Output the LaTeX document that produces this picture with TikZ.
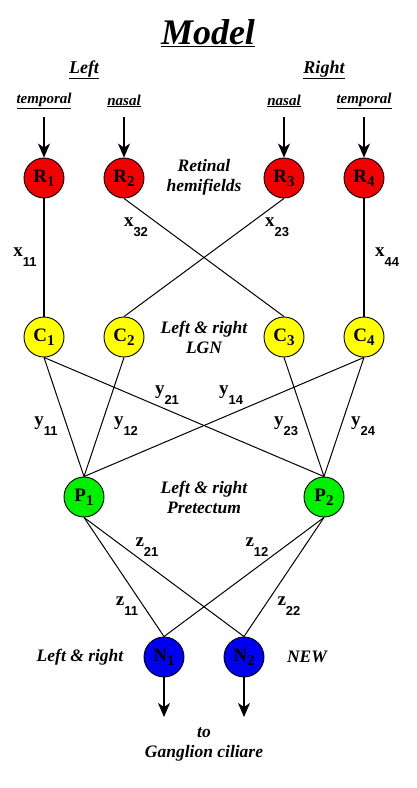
\documentclass[tikz,border=0pt]{standalone}
\usepackage{fontspec}
\setmainfont{Liberation Serif}
\setsansfont{Liberation Sans}
\usetikzlibrary{arrows.meta}
\definecolor{nred}{RGB}{240,0,0}
\definecolor{nyellow}{RGB}{255,255,0}
\definecolor{ngreen}{RGB}{0,240,0}
\definecolor{nblue}{RGB}{0,0,240}
\newcommand{\nlab}[2]{#1\raisebox{-4pt}{\fontsize{15}{15}\selectfont #2}}
\newcommand{\elab}[2]{\textbf{#1}\raisebox{-10pt}{\sffamily\bfseries\fontsize{13}{13}\selectfont #2}}
\begin{document}
\begin{tikzpicture}[x=1pt,y=-1pt,
  neuron/.style={circle,draw=black,line width=0.9pt,minimum size=40pt,inner sep=0pt,font=\fontsize{19}{19}\selectfont\bfseries},
  rnode/.style={neuron,fill=nred},
  cnode/.style={neuron,fill=nyellow},
  pnode/.style={neuron,fill=ngreen},
  nnode/.style={neuron,fill=nblue},
  title/.style={font=\fontsize{36}{36}\selectfont\bfseries\itshape},
  side/.style={font=\fontsize{18}{18}\selectfont\bfseries\itshape},
  sub/.style={font=\fontsize{15}{15}\selectfont\bfseries\itshape},
  layer/.style={font=\fontsize{17.5}{20}\selectfont\bfseries\itshape,align=center},
  edgelab/.style={font=\fontsize{19}{19}\selectfont,inner sep=0pt},
  conn/.style={line width=1pt},
  vconn/.style={line width=1.6pt},
  arr/.style={line width=1.6pt,-{Stealth[length=14pt,width=12pt,inset=4pt]}}]
\useasboundingbox (0,0) rectangle (416,788);
% title
\node[title] (model) at (208,33) {\underline{Model}};
\node[side] (left) at (84,70) {\underline{Left}};
\node[side] (right) at (324,70) {\underline{Right}};
\node[sub] (t1) at (44,101) {\underline{temporal}};
\node[sub] (n1) at (124,101) {\underline{nasal}};
\node[sub] (n2) at (284,101) {\underline{nasal}};
\node[sub] (t2) at (364,101) {\underline{temporal}};
% neurons
\node[rnode] (R1) at (44,178) {\nlab{R}{1}};
\node[rnode] (R2) at (124,178) {\nlab{R}{2}};
\node[rnode] (R3) at (284,178) {\nlab{R}{3}};
\node[rnode] (R4) at (364,178) {\nlab{R}{4}};
\node[cnode] (C1) at (44,337) {\nlab{C}{1}};
\node[cnode] (C2) at (124,337) {\nlab{C}{2}};
\node[cnode] (C3) at (284,337) {\nlab{C}{3}};
\node[cnode] (C4) at (364,337) {\nlab{C}{4}};
\node[pnode] (P1) at (84,497) {\nlab{P}{1}};
\node[pnode] (P2) at (324,497) {\nlab{P}{2}};
\node[nnode] (N1) at (164,657) {\nlab{N}{1}};
\node[nnode] (N2) at (244,657) {\nlab{N}{2}};
% layer labels
\node[layer] (lr) at (204,177) {Retinal\\hemifields};
\node[layer] (ll) at (204,337) {Left \& right\\LGN};
\node[layer] (lp) at (204,497) {Left \& right\\Pretectum};
\node[layer] (ln) at (80,657) {Left \& right};
\node[layer] (lnew) at (307,657) {NEW};
\node[layer] (lg) at (204,744) {to\\Ganglion ciliare};
% input arrows
\coordinate (a1) at (44,117);
\coordinate (a2) at (124,117);
\coordinate (a3) at (284,117);
\coordinate (a4) at (364,117);
\draw[arr] (a1) -- (R1);
\draw[arr] (a2) -- (R2);
\draw[arr] (a3) -- (R3);
\draw[arr] (a4) -- (R4);
% output arrows
\coordinate (o1) at (164,717);
\coordinate (o2) at (244,717);
\draw[arr] (N1) -- (o1);
\draw[arr] (N2) -- (o2);
% R -> C
\draw[vconn] (R1) -- (C1);
\draw[vconn] (R4) -- (C4);
\draw[conn] (R2.south) -- (C3.north);
\draw[conn] (R3.south) -- (C2.north);
% C -> P
\draw[conn] (C1.south) -- (P1.north);
\draw[conn] (C1.south) -- (P2.north);
\draw[conn] (C2.south) -- (P1.north);
\draw[conn] (C3.south) -- (P2.north);
\draw[conn] (C4.south) -- (P1.north);
\draw[conn] (C4.south) -- (P2.north);
% P -> N
\draw[conn] (P1.south) -- (N1.north);
\draw[conn] (P1.south) -- (N2.north);
\draw[conn] (P2.south) -- (N1.north);
\draw[conn] (P2.south) -- (N2.north);
% edge labels
\node[edgelab] (x11) at (25,257) {\elab{x}{11}};
\node[edgelab] (x32) at (136,227) {\elab{x}{32}};
\node[edgelab] (x23) at (277,227) {\elab{x}{23}};
\node[edgelab] (x44) at (387,257) {\elab{x}{44}};
\node[edgelab] (y11) at (46,426) {\elab{y}{11}};
\node[edgelab] (y12) at (126,426) {\elab{y}{12}};
\node[edgelab] (y21) at (167,395) {\elab{y}{21}};
\node[edgelab] (y14) at (231,395) {\elab{y}{14}};
\node[edgelab] (y23) at (286,426) {\elab{y}{23}};
\node[edgelab] (y24) at (363,426) {\elab{y}{24}};
\node[edgelab] (z21) at (147,547) {\elab{z}{21}};
\node[edgelab] (z12) at (257,547) {\elab{z}{12}};
\node[edgelab] (z11) at (127,606) {\elab{z}{11}};
\node[edgelab] (z22) at (289,606) {\elab{z}{22}};
\end{tikzpicture}
\end{document}
